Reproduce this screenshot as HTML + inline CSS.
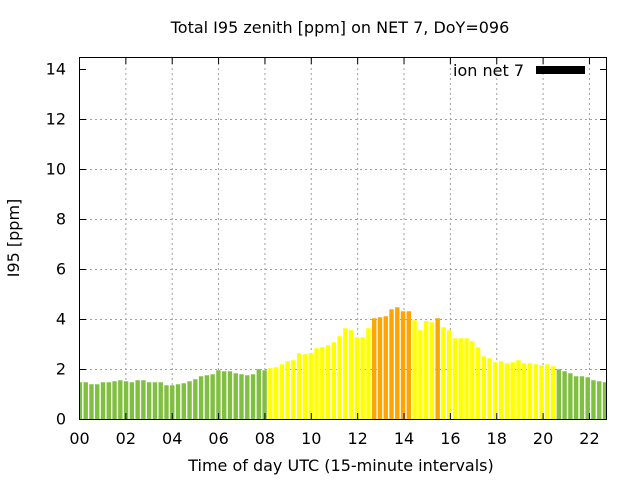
<!DOCTYPE html>
<html><head><meta charset="utf-8"><style>html,body{margin:0;padding:0;background:#fff}svg{display:block}text{font-family:"DejaVu Sans","Liberation Sans",sans-serif;fill:#000}</style></head>
<body>
<svg id="s" width="640" height="480" viewBox="0 0 640 480" xmlns="http://www.w3.org/2000/svg">
<defs><clipPath id="c"><rect x="80" y="57" width="527" height="362"/></clipPath></defs>
<g id="grid" stroke="#a0a0a0" stroke-width="1" stroke-dasharray="2,3"></g>
<g id="bars" clip-path="url(#c)"></g>
<g id="ticks" stroke="#000" stroke-width="1"></g>
<rect x="79.5" y="57.5" width="527" height="362" fill="none" stroke="#000" stroke-width="1"/>
<text x="340" y="33" font-size="16" text-anchor="middle">Total I95 zenith [ppm] on NET 7, DoY=096</text>
<text x="341" y="471" font-size="16" text-anchor="middle">Time of day UTC (15-minute intervals)</text>
<text transform="translate(19,238) rotate(-90)" font-size="16" text-anchor="middle">I95 [ppm]</text>
<text x="524" y="76" font-size="16" text-anchor="end">ion net 7</text>
<rect x="536" y="66" width="49" height="8" fill="#000"/>
<g id="labels" font-size="16"></g>
</svg>
<script>
var v=[1.49,1.49,1.41,1.41,1.49,1.49,1.53,1.57,1.53,1.49,1.57,1.57,1.49,1.49,1.49,1.37,1.37,1.41,1.45,1.53,1.61,1.73,1.77,1.81,1.97,1.93,1.93,1.85,1.81,1.77,1.81,2.01,1.97,
2.05,2.09,2.21,2.33,2.37,2.65,2.61,2.65,2.85,2.89,2.97,
3.09,3.33,3.65,3.57,3.29,3.29,3.65,4.05,4.09,4.13,4.41,4.49,4.33,4.33,3.97,3.57,3.93,3.89,4.05,3.69,3.57,3.25,3.25,3.25,3.13,2.89,2.53,2.45,2.29,2.33,2.25,2.29,2.37,2.25,2.25,2.21,2.17,2.21,2.13,2.01,1.93,1.85,1.73,1.73,1.69,1.57,1.53,1.49];
var ns="http://www.w3.org/2000/svg";
function el(p,t,a,tx){var e=document.createElementNS(ns,t);for(var k in a)e.setAttribute(k,a[k]);if(tx)e.textContent=tx;document.getElementById(p).appendChild(e);}
var y0=419.5,py=25;
for(var i=0;i<v.length;i++){var k=i+1,x=83.5+5.77*(k-2),h=v[i]*py;
var col=(k<=33||k>=84)?"#80c040":(((k>=52&&k<=58)||k==63)?"#ffa500":"#ffff00");
el("bars","rect",{x:x.toFixed(2),y:(y0-h).toFixed(2),width:4.4,height:h.toFixed(2),fill:col});}
for(var j=0;j<=7;j++){var y=419.5-j*50;
if(j>0&&j<7)el("grid","line",{x1:80,x2:606,y1:y,y2:y});
el("ticks","line",{x1:79.5,x2:86,y1:y,y2:y});el("ticks","line",{x1:600,x2:606.5,y1:y,y2:y});
el("labels","text",{x:66,y:y+5,"text-anchor":"end"},String(j*2));}
for(var j=0;j<=11;j++){var x=79.5+j*46.36;
if(j>0)el("grid","line",{x1:x,x2:x,y1:58,y2:419});
el("ticks","line",{x1:x,x2:x,y1:419.5,y2:413});el("ticks","line",{x1:x,x2:x,y1:57.5,y2:64});
el("labels","text",{x:x,y:444,"text-anchor":"middle"},(j*2<10?"0":"")+(j*2));}
</script>
</body></html>
